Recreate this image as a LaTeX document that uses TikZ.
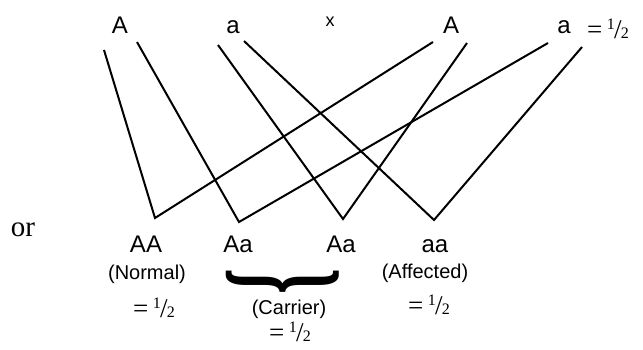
\documentclass[tikz,border=0pt]{standalone}
\usepackage{fontspec}
\setmainfont{Liberation Serif}
\setsansfont{Liberation Sans}
\usepackage{graphicx}
\usetikzlibrary{positioning}

% one half, built as in the printed cross
\newcommand{\halfsym}{{\raisebox{.34em}{\fontsize{16}{16}\selectfont 1}\kern-.03em/\kern-.03em{\fontsize{16}{16}\selectfont 2}}}

\begin{document}
\begin{tikzpicture}[x=1pt, y=-1pt,
    allele/.style={font=\sffamily\fontsize{24}{26}\selectfont, inner sep=0pt, anchor=base},
    geno/.style={font=\sffamily\fontsize{24}{26}\selectfont, inner sep=0pt, anchor=base},
    pheno/.style={font=\sffamily\fontsize{20}{22}\selectfont, inner sep=0pt},
    ratio/.style={font=\fontsize{27}{29}\selectfont, inner sep=0pt},
    cross/.style={line width=2pt, line join=miter},
]

\useasboundingbox (0,0) rectangle (643,349);

% Parents
\node[allele] (A1) at (120, 33) {A};
\node[allele] (a1) at (233, 33) {a};
\node[font=\sffamily\fontsize{18}{20}\selectfont, inner sep=0pt] (times) at (330, 22) {x};
\node[allele] (A2) at (451, 33) {A};
\node[allele] (a2) at (564, 33) {a};
\node[ratio, anchor=west] (ptop) at (587, 29) {=\,\halfsym};

% Line ends
\coordinate (A1l) at (104, 50);
\coordinate (A1r) at (137, 42);
\coordinate (a1l) at (218, 45);
\coordinate (a1r) at (244, 41);
\coordinate (A2l) at (433, 42);
\coordinate (A2r) at (467, 43);
\coordinate (a2l) at (548, 43);
\coordinate (a2r) at (582, 47);

\coordinate (vAA) at (155, 218);
\coordinate (vAa) at (239, 222);
\coordinate (vAb) at (343, 219);
\coordinate (vaa) at (434, 220);

\draw[cross] (A1l) -- (vAA) -- (A2l);
\draw[cross] (A1r) -- (vAa) -- (a2l);
\draw[cross] (a1l) -- (vAb) -- (A2r);
\draw[cross] (a1r) -- (vaa) -- (a2r);

% Offspring
\node[font=\fontsize{29}{31}\selectfont, inner sep=0pt] (or) at (23, 230) {or};
\node[geno] (gAA) at (146, 252) {AA};
\node[geno] (gAa) at (238, 252) {Aa};
\node[geno] (gAb) at (341, 252) {Aa};
\node[geno] (gaa) at (435, 252) {aa};

\node[pheno] (normal) at (147, 274) {(Normal)};
\node[pheno] (affected) at (425, 273) {(Affected)};
\node[inner sep=0pt] (brace) at (283, 281) {\resizebox*{113pt}{26pt}{\rotatebox{-90}{\fontsize{40}{40}\selectfont\bfseries\}}}};
\node[pheno] (carrier) at (289, 309) {(Carrier)};

\node[ratio] (pAA) at (154, 308) {=\,\halfsym};
\node[ratio] (pAa) at (290, 332) {=\,\halfsym};
\node[ratio] (paa) at (429, 305) {=\,\halfsym};

\end{tikzpicture}
\end{document}
